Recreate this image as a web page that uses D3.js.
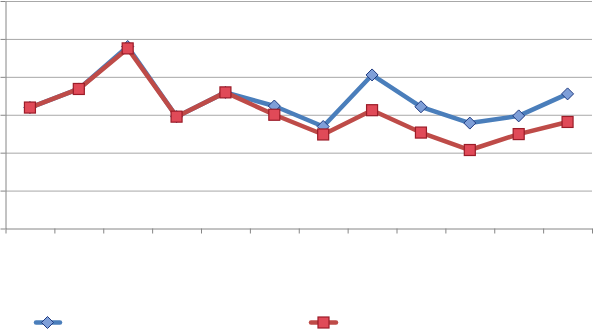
<!DOCTYPE html>
<html><head><meta charset="utf-8">
<script src="https://cdn.jsdelivr.net/npm/d3@7"></script>
<style>html,body{margin:0;padding:0;background:#fff;overflow:hidden}</style>
</head><body>
<svg id="c" width="594" height="331"></svg>
<script>
const categories = ["1","2","3","4","5","6","7","8","9","10","11","12"];
const seriesA = [31.9, 36.8, 48.0, 29.5, 35.9, 32.3, 26.9, 40.5, 32.1, 27.8, 29.7, 35.5];
const seriesB = [31.9, 36.8, 47.5, 29.5, 35.9, 30.0, 24.8, 31.2, 25.3, 20.7, 24.9, 28.1];
const yTicks = [0, 10, 20, 30, 40, 50, 60];

(function () {
const svg = d3.select("#c");
const pLeft = 5.5, pRight = 592, pTop = 1, pBottom = 228.5;
const x = d3.scaleBand().domain(categories).range([pLeft, pRight]);
const xEdge = d3.scaleLinear().domain([0, categories.length]).range([pLeft, pRight]);
const y = d3.scaleLinear().domain([0, 60]).range([pBottom, pTop]);

// gridlines
const grid = svg.append("g").attr("transform", `translate(${pLeft},0)`)
  .call(d3.axisLeft(y).tickValues(yTicks.slice(1)).tickSize(-(pRight - pLeft)).tickFormat(""));
grid.select(".domain").remove();
grid.selectAll("line").attr("stroke", "#a8a8a8").attr("stroke-width", 1);

// y axis
const ya = svg.append("g").attr("transform", `translate(${pLeft},0)`)
  .call(d3.axisLeft(y).tickValues(yTicks).tickSizeInner(5).tickSizeOuter(0).tickFormat(""));
ya.select(".domain").attr("stroke", "#868686");
ya.selectAll("line").attr("stroke", "#868686");

// x axis
const xa = svg.append("g").attr("transform", `translate(0,${pBottom})`)
  .call(d3.axisBottom(xEdge).tickValues(d3.range(categories.length + 1)).tickSizeInner(5).tickSizeOuter(0).tickFormat(""));
xa.select(".domain").attr("stroke", "#868686");
xa.selectAll("line").attr("stroke", "#868686");

const cx = (d, i) => x(categories[i]) + x.bandwidth() / 2;
const line = d3.line().x((d, i) => cx(d, i)).y(d => y(d));

const blue = "#4a7ebb", blueFill = "#7f9fd8", blueStroke = "#1f3a80";
const red = "#be4b48", redFill = "#e04a58", redStroke = "#9b1c28";

function drawMarker(g, px, py, kind) {
  if (kind === "diamond") {
    const r = 6;
    g.append("path").attr("d", `M${px},${py - r}L${px + r},${py}L${px},${py + r}L${px - r},${py}Z`)
      .attr("fill", blueFill).attr("stroke", blueStroke).attr("stroke-width", 1);
  } else {
    const s = 11;
    g.append("rect").attr("x", px - s / 2).attr("y", py - s / 2).attr("width", s).attr("height", s)
      .attr("fill", redFill).attr("stroke", redStroke).attr("stroke-width", 1.2);
  }
}
function drawSeries(vals, color, kind) {
  svg.append("path").datum(vals).attr("d", line)
    .attr("fill", "none").attr("stroke", color).attr("stroke-width", 4.5)
    .attr("stroke-linejoin", "round").attr("stroke-linecap", "round");
  const g = svg.append("g");
  vals.forEach((v, i) => drawMarker(g, cx(v, i), y(v), kind));
}
drawSeries(seriesA, blue, "diamond");
drawSeries(seriesB, red, "square");

// legend
const ly = 322.5;
const lg = svg.append("g");
lg.append("line").attr("x1", 36).attr("x2", 60).attr("y1", ly).attr("y2", ly)
  .attr("stroke", blue).attr("stroke-width", 4.5).attr("stroke-linecap", "round");
drawMarker(lg, 47.5, ly, "diamond");
lg.append("line").attr("x1", 311).attr("x2", 336).attr("y1", ly).attr("y2", ly)
  .attr("stroke", red).attr("stroke-width", 4.5).attr("stroke-linecap", "round");
drawMarker(lg, 323.5, ly, "square");
})();
</script>
</body></html>
